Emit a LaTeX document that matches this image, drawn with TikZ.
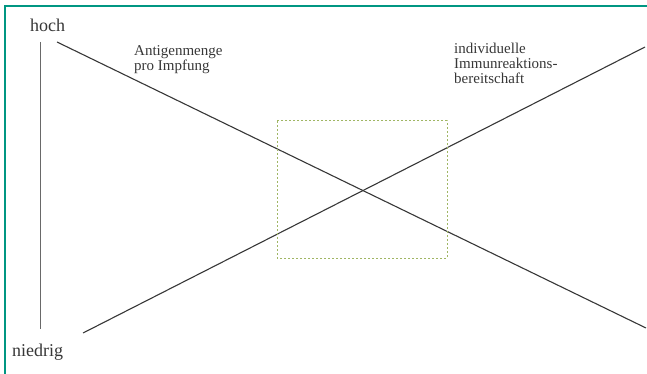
\documentclass[tikz,border=0pt]{standalone}
\usepackage{fontspec}
\setmainfont{Liberation Serif}
\usetikzlibrary{positioning}
\definecolor{framecol}{RGB}{0,150,130}
\definecolor{linecol}{RGB}{55,55,55}
\definecolor{axiscol}{RGB}{105,105,105}
\definecolor{zonecol}{RGB}{160,182,100}

\begin{document}
\begin{tikzpicture}[x=1pt,y=-1pt,
  axislabel/.style={text=linecol,font=\fontsize{18}{20}\selectfont,inner sep=0pt},
  curvelabel/.style={text=linecol,font=\fontsize{15}{15}\selectfont,align=left,inner sep=0pt},
  trend/.style={draw=linecol,line width=1.1pt}]
\useasboundingbox (0,0) rectangle (647,374);
% frame (top and left only)
\draw[framecol,line width=2.5pt] (5,374) -- (5,6) -- (647,6);

% axis
\node[axislabel,anchor=base west] (hoch) at (30,32) {hoch};
\node[axislabel,anchor=base west] (niedrig) at (12,356) {niedrig};
\coordinate (top) at (40,42);
\coordinate (bottom) at (40,329);
\draw[axiscol,line width=0.9pt] (top) -- (bottom);

% falling and rising lines
\coordinate (fallstart) at (57,42);
\coordinate (fallend) at (646,328);
\coordinate (risestart) at (83,333);
\coordinate (riseend) at (645,47);
\draw[trend] (fallstart) -- (fallend);
\draw[trend] (risestart) -- (riseend);

\node[curvelabel,anchor=north west] (antigen) at (134,45.8) {Antigenmenge\\[-0.5pt]pro Impfung};
\node[curvelabel,anchor=north west] (immun) at (454,42.7) {individuelle\\Immunreaktions-\\bereitschaft};

% optimal zone
\draw[zonecol,line width=1pt,dash pattern=on 2pt off 2pt] (277,121) rectangle (447,258);
\end{tikzpicture}
\end{document}
